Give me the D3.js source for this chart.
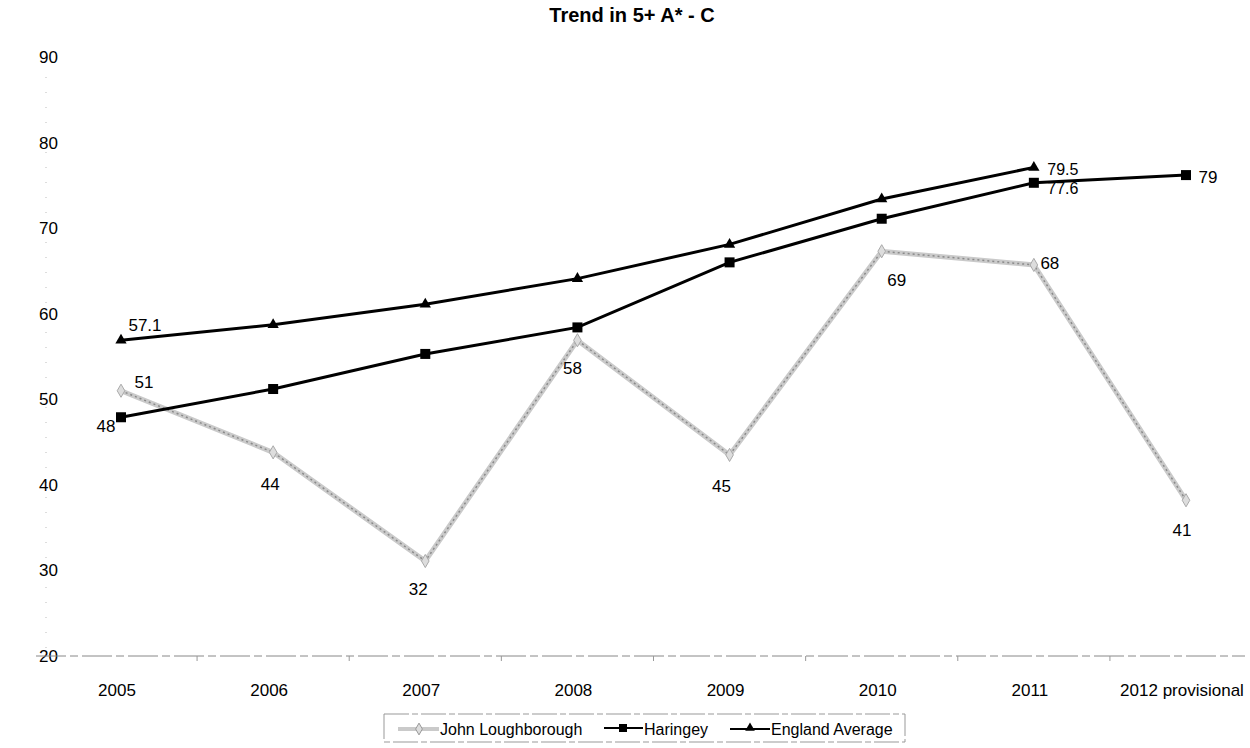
<!DOCTYPE html>
<html>
<head>
<meta charset="utf-8">
<script src="https://cdn.jsdelivr.net/npm/d3@7"></script>
<style>
  body { margin: 0; background: #fff; }
  svg { font-family: "Liberation Sans", Arial, sans-serif; }
</style>
</head>
<body>
<svg width="1250" height="748"></svg>
<script>
var years = ["2005", "2006", "2007", "2008", "2009", "2010", "2011", "2012 provisional"];
var yTicks = [20, 30, 40, 50, 60, 70, 80, 90];

// values as plotted in the picture
var johnValues = [51.0, 43.8, 31.1, 56.9, 43.5, 67.3, 65.7, 38.2];
var haringeyValues = [47.9, 51.2, 55.3, 58.4, 66.0, 71.1, 75.3, 76.2];
var englandValues = [56.9, 58.7, 61.1, 64.1, 68.1, 73.4, 77.1];

// data labels as printed on the chart
var johnLabels = ["51", "44", "32", "58", "45", "69", "68", "41"];
var haringeyLabels = ["48", "", "", "", "", "", "77.6", "79"];
var englandLabels = ["57.1", "", "", "", "", "", "79.5"];

var svg = d3.select("svg");

var x = d3.scalePoint().domain(years).range([121, 1186]);
var y = d3.scaleLinear().domain([20, 90]).range([656, 57]);

// title
svg.append("text")
    .attr("x", 632).attr("y", 22)
    .attr("text-anchor", "middle")
    .attr("font-size", 20).attr("font-weight", "bold")
    .text("Trend in 5+ A* - C");

// y axis (faint dotted line + labels)
svg.append("line")
    .attr("x1", 46).attr("x2", 46)
    .attr("y1", y(90) + 20).attr("y2", y(20))
    .attr("stroke", "#bbb").attr("stroke-width", 1)
    .attr("stroke-dasharray", "1,14");

svg.append("g").selectAll("text")
    .data(yTicks)
  .enter().append("text")
    .attr("x", 58)
    .attr("y", function(d) { return y(d); })
    .attr("dy", "0.35em")
    .attr("text-anchor", "end")
    .attr("font-size", 17)
    .text(function(d) { return d; });

// x axis
svg.append("line")
    .attr("x1", 36).attr("x2", 1245)
    .attr("y1", y(20)).attr("y2", y(20))
    .attr("stroke", "#888").attr("stroke-width", 1)
    .attr("stroke-dasharray", "30,4,8,4");

var step = x.step();
svg.append("g").selectAll("line")
    .data(years.slice(1))
  .enter().append("line")
    .attr("x1", function(d) { return x(d) - step / 2; })
    .attr("x2", function(d) { return x(d) - step / 2; })
    .attr("y1", y(20)).attr("y2", y(20) + 5)
    .attr("stroke", "#999");

svg.append("g").selectAll("text")
    .data(years)
  .enter().append("text")
    .attr("x", function(d) { return x(d) - 4; })
    .attr("y", 696)
    .attr("text-anchor", "middle")
    .attr("font-size", 17)
    .text(function(d) { return d; });

var line = d3.line()
    .x(function(d, i) { return x(years[i]); })
    .y(function(d) { return y(d); });

// John Loughborough - grey textured line
svg.append("path")
    .datum(johnValues)
    .attr("d", line)
    .attr("fill", "none")
    .attr("stroke", "#cacaca").attr("stroke-width", 5);
svg.append("path")
    .datum(johnValues)
    .attr("d", line)
    .attr("fill", "none")
    .attr("stroke", "#8a8a8a").attr("stroke-width", 1.5)
    .attr("stroke-dasharray", "2,3");
svg.append("g").selectAll("path")
    .data(johnValues)
  .enter().append("path")
    .attr("transform", function(d, i) { return "translate(" + x(years[i]) + "," + y(d) + ")"; })
    .attr("d", d3.symbol().type(d3.symbolDiamond).size(50))
    .attr("fill", "#ddd").attr("stroke", "#aaa");

// Haringey
svg.append("path")
    .datum(haringeyValues)
    .attr("d", line)
    .attr("fill", "none")
    .attr("stroke", "#000").attr("stroke-width", 3);
svg.append("g").selectAll("rect")
    .data(haringeyValues)
  .enter().append("rect")
    .attr("x", function(d, i) { return x(years[i]) - 5; })
    .attr("y", function(d) { return y(d) - 5; })
    .attr("width", 10).attr("height", 10)
    .attr("fill", "#000");

// England Average
svg.append("path")
    .datum(englandValues)
    .attr("d", line)
    .attr("fill", "none")
    .attr("stroke", "#000").attr("stroke-width", 3);
svg.append("g").selectAll("path")
    .data(englandValues)
  .enter().append("path")
    .attr("transform", function(d, i) { return "translate(" + x(years[i]) + "," + y(d) + ")"; })
    .attr("d", d3.symbol().type(d3.symbolTriangle).size(55))
    .attr("fill", "#000");

// data labels: [dx, dy, font size]
var johnOff = [[23, -3, 17], [-3, 38, 17], [-7, 34, 17], [-5, 34, 17], [-8, 37, 17], [15, 35, 17], [16, 4, 17], [-4, 36, 17]];
var haringeyOff = [[-15, 15, 17], null, null, null, null, null, [29, 11, 16], [22, 8, 17]];
var englandOff = [[24, -9, 17], null, null, null, null, null, [29, 8, 16]];

function addLabels(values, labels, offs) {
  var items = values.map(function(v, i) {
    return { v: v, i: i, text: labels[i], off: offs[i] };
  }).filter(function(d) { return d.text !== ""; });
  svg.append("g").selectAll("text")
      .data(items)
    .enter().append("text")
      .attr("x", function(d) { return x(years[d.i]) + d.off[0]; })
      .attr("y", function(d) { return y(d.v) + d.off[1]; })
      .attr("text-anchor", "middle")
      .attr("font-size", function(d) { return d.off[2]; })
      .text(function(d) { return d.text; });
}
addLabels(johnValues, johnLabels, johnOff);
addLabels(haringeyValues, haringeyLabels, haringeyOff);
addLabels(englandValues, englandLabels, englandOff);

// legend
var legend = svg.append("g");
legend.append("rect")
    .attr("x", 384).attr("y", 714)
    .attr("width", 521).attr("height", 28)
    .attr("fill", "none")
    .attr("stroke", "#999").attr("stroke-width", 1)
    .attr("stroke-dasharray", "25,3,6,3");

var legendNames = ["John Loughborough", "Haringey", "England Average"];
var ly = 729;

legend.append("line")
    .attr("x1", 398).attr("x2", 439).attr("y1", ly).attr("y2", ly)
    .attr("stroke", "#cacaca").attr("stroke-width", 4);
legend.append("path")
    .attr("transform", "translate(419," + ly + ")")
    .attr("d", d3.symbol().type(d3.symbolDiamond).size(40))
    .attr("fill", "#ddd").attr("stroke", "#999");
legend.append("text")
    .attr("x", 440).attr("y", ly + 6)
    .attr("font-size", 16)
    .text(legendNames[0]);

legend.append("line")
    .attr("x1", 604).attr("x2", 643).attr("y1", ly - 1).attr("y2", ly - 1)
    .attr("stroke", "#000").attr("stroke-width", 2);
legend.append("rect")
    .attr("x", 619).attr("y", ly - 5).attr("width", 8).attr("height", 8)
    .attr("fill", "#000");
legend.append("text")
    .attr("x", 644).attr("y", ly + 6)
    .attr("font-size", 16)
    .text(legendNames[1]);

legend.append("line")
    .attr("x1", 730).attr("x2", 770).attr("y1", ly).attr("y2", ly)
    .attr("stroke", "#000").attr("stroke-width", 2);
legend.append("path")
    .attr("transform", "translate(750," + (ly - 1) + ")")
    .attr("d", d3.symbol().type(d3.symbolTriangle).size(40))
    .attr("fill", "#000");
legend.append("text")
    .attr("x", 771).attr("y", ly + 6)
    .attr("font-size", 16)
    .text(legendNames[2]);
</script>
</body>
</html>
